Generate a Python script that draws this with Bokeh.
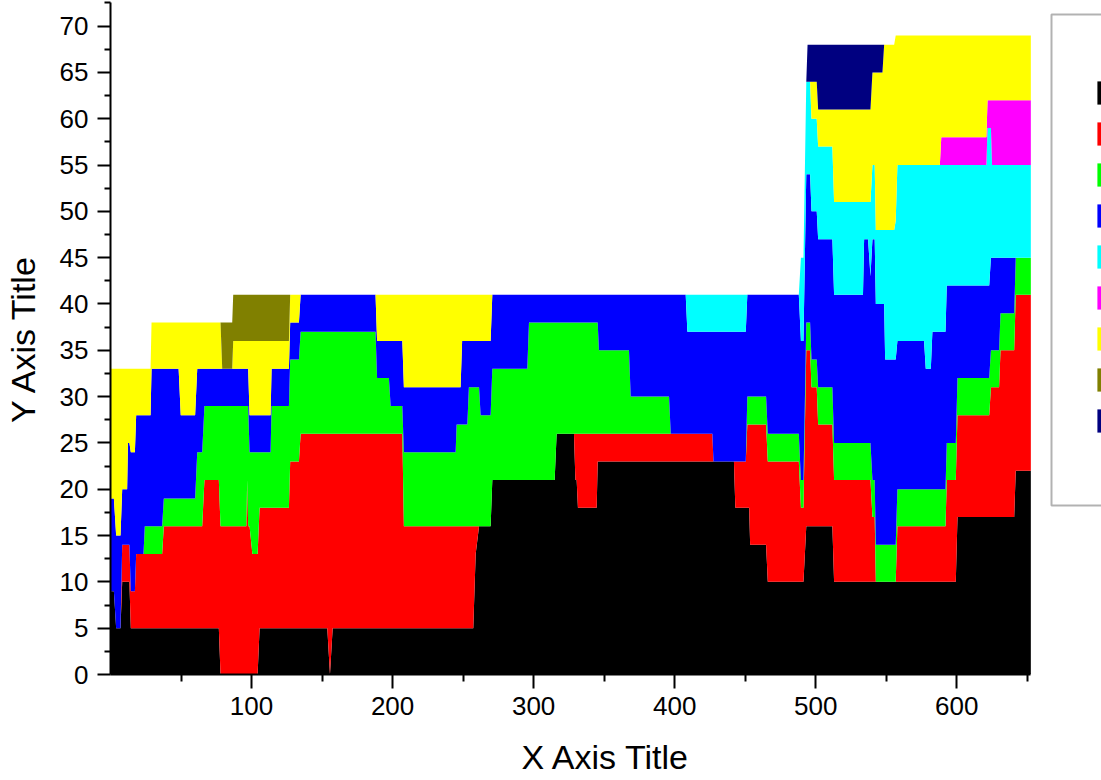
import numpy as np
from bokeh.plotting import figure
from bokeh.models import (ColumnDataSource, Range1d, FixedTicker, Legend,
                          LegendItem, BoxAnnotation)
from bokeh.embed import file_html
from bokeh.resources import INLINE

# ---- data: x positions and the stacked (cumulative) top level of each series ----
x = [0, 2.4, 4.0, 7.1, 8.3, 11.8, 12.4, 13.4, 14.4, 17.3,
     18.2, 23.4, 24.3, 28.4, 29.1, 36.6, 37.8, 48.3, 49.8, 60.0,
     61.5, 65.0, 66.6, 76.8, 78.0, 79.2, 86.3, 87.0, 96.3, 96.9,
     97.6, 98.6, 100.6, 104.3, 105.7, 113.5, 114.2, 126.5, 127.4, 133.6,
     134.8, 153.7, 155.6, 157.5, 187.9, 189.0, 197.4, 198.6, 206.9, 208.0,
     244.7, 245.4, 248.2, 249.3, 253.0, 254.1, 257.2, 258.9, 261.3, 262.4,
     269.5, 270.7, 295.5, 296.7, 314.9, 316.3, 328.6, 329.6, 330.5, 331.4,
     344.7, 345.4, 346.3, 367.6, 368.8, 396.0, 397.2, 407.8, 409.0, 426.7,
     427.5, 442.0, 443.0, 450.4, 451.5, 452.8, 453.5, 464.8, 466.0, 488.0,
     489.5, 491.3, 493.3, 494.2, 496.0, 497.0, 500.7, 501.7, 511.8, 513.0,
     533.5, 534.3, 537.1, 538.8, 540.2, 541.8, 542.6, 547.3, 548.5, 549.2,
     555.6, 556.7, 557.9, 576.8, 578.0, 581.6, 582.7, 588.0, 589.0, 592.0,
     592.9, 599.3, 600.5, 621.0, 621.8, 623.0, 624.2, 625.0, 630.0, 631.0,
     640.7, 641.8, 652.5]

level_black = [9, 9, 5, 5, 10, 10, 10, 10, 5, 5,
               5, 5, 5, 5, 5, 5, 5, 5, 5, 5,
               5, 5, 5, 5, 0, 0, 0, 0, 0, 0,
               0, 0, 0, 0, 5, 5, 5, 5, 5, 5,
               5, 5, 0, 5, 5, 5, 5, 5, 5, 5,
               5, 5, 5, 5, 5, 5, 5, 13, 16, 16,
               16, 21, 21, 21, 21, 26, 26, 21, 21, 18,
               18, 23, 23, 23, 23, 23, 23, 23, 23, 23,
               23, 23, 18, 18, 18, 18, 14, 14, 10, 10,
               10, 10, 16, 16, 16, 16, 16, 16, 16, 10,
               10, 10, 10, 10, 10, 10, 10, 10, 10, 10,
               10, 10, 10, 10, 10, 10, 10, 10, 10, 10,
               10, 10, 17, 17, 17, 17, 17, 17, 17, 17,
               17, 22, 22]

level_red = [9, 9, 5, 5, 14, 14, 14, 14, 9, 9,
             13, 13, 13, 13, 13, 13, 16, 16, 16, 16,
             16, 16, 21, 21, 16, 16, 16, 16, 16, 21,
             16, 16, 13, 13, 18, 18, 18, 18, 23, 23,
             26, 26, 26, 26, 26, 26, 26, 26, 26, 16,
             16, 16, 16, 16, 16, 16, 16, 16, 16, 16,
             16, 21, 21, 21, 21, 26, 26, 26, 26, 26,
             26, 26, 26, 26, 26, 26, 26, 26, 26, 26,
             23, 23, 23, 23, 27, 27, 27, 27, 23, 23,
             18, 18, 35, 35, 35, 31, 31, 27, 27, 21,
             21, 21, 21, 21, 17, 17, 10, 10, 10, 10,
             10, 10, 16, 16, 16, 16, 16, 16, 16, 16,
             21, 21, 28, 28, 28, 28, 31, 31, 31, 35,
             35, 41, 41]

level_green = [9, 9, 5, 5, 14, 14, 14, 14, 9, 9,
               13, 13, 16, 16, 16, 16, 19, 19, 19, 19,
               24, 24, 29, 29, 29, 29, 29, 29, 29, 29,
               29, 24, 24, 24, 24, 24, 29, 29, 34, 34,
               37, 37, 37, 37, 37, 32, 32, 29, 29, 24,
               24, 27, 27, 27, 27, 31, 31, 31, 31, 28,
               28, 33, 33, 38, 38, 38, 38, 38, 38, 38,
               38, 38, 35, 35, 30, 30, 26, 26, 26, 26,
               23, 23, 23, 23, 30, 30, 30, 30, 26, 26,
               21, 21, 38, 38, 38, 34, 34, 31, 31, 25,
               25, 25, 25, 25, 21, 21, 14, 14, 14, 14,
               14, 14, 20, 20, 20, 20, 20, 20, 20, 20,
               25, 25, 32, 32, 32, 32, 35, 35, 35, 39,
               39, 45, 45]

level_blue = [19, 19, 15, 15, 20, 20, 25, 25, 24, 24,
              28, 28, 28, 28, 33, 33, 33, 33, 28, 28,
              33, 33, 33, 33, 33, 33, 33, 33, 33, 33,
              33, 28, 28, 28, 28, 28, 33, 33, 38, 38,
              41, 41, 41, 41, 41, 36, 36, 36, 36, 31,
              31, 31, 31, 36, 36, 36, 36, 36, 36, 36,
              36, 41, 41, 41, 41, 41, 41, 41, 41, 41,
              41, 41, 41, 41, 41, 41, 41, 41, 37, 37,
              37, 37, 37, 37, 41, 41, 41, 41, 41, 41,
              36, 36, 54, 54, 54, 50, 50, 47, 47, 41,
              41, 47, 47, 43, 47, 47, 40, 40, 40, 34,
              34, 34, 36, 36, 33, 33, 37, 37, 37, 37,
              42, 42, 42, 42, 42, 42, 45, 45, 45, 45,
              45, 45, 45]

level_cyan = [19, 19, 15, 15, 20, 20, 25, 25, 24, 24,
              28, 28, 28, 28, 33, 33, 33, 33, 28, 28,
              33, 33, 33, 33, 33, 33, 33, 33, 33, 33,
              33, 28, 28, 28, 28, 28, 33, 33, 38, 38,
              41, 41, 41, 41, 41, 36, 36, 36, 36, 31,
              31, 31, 31, 36, 36, 36, 36, 36, 36, 36,
              36, 41, 41, 41, 41, 41, 41, 41, 41, 41,
              41, 41, 41, 41, 41, 41, 41, 41, 41, 41,
              41, 41, 41, 41, 41, 41, 41, 41, 41, 41,
              45, 45, 64, 64, 64, 60, 60, 57, 57, 51,
              51, 51, 51, 51, 55, 55, 48, 48, 48, 48,
              48, 49, 55, 55, 55, 55, 55, 55, 55, 55,
              55, 55, 55, 55, 59, 59, 59, 55, 55, 55,
              55, 55, 55]

level_magenta = [19, 19, 15, 15, 20, 20, 25, 25, 24, 24,
                 28, 28, 28, 28, 33, 33, 33, 33, 28, 28,
                 33, 33, 33, 33, 33, 33, 33, 33, 33, 33,
                 33, 28, 28, 28, 28, 28, 33, 33, 38, 38,
                 41, 41, 41, 41, 41, 36, 36, 36, 36, 31,
                 31, 31, 31, 36, 36, 36, 36, 36, 36, 36,
                 36, 41, 41, 41, 41, 41, 41, 41, 41, 41,
                 41, 41, 41, 41, 41, 41, 41, 41, 41, 41,
                 41, 41, 41, 41, 41, 41, 41, 41, 41, 41,
                 45, 45, 64, 64, 64, 60, 60, 57, 57, 51,
                 51, 51, 51, 51, 55, 55, 48, 48, 48, 48,
                 48, 49, 55, 55, 55, 55, 55, 55, 58, 58,
                 58, 58, 58, 58, 62, 62, 62, 62, 62, 62,
                 62, 62, 62]

level_yellow = [33, 33, 33, 33, 33, 33, 33, 33, 33, 33,
                33, 33, 33, 33, 38, 38, 38, 38, 38, 38,
                38, 38, 38, 38, 38, 33, 33, 36, 36, 36,
                36, 36, 36, 36, 36, 36, 36, 36, 41, 41,
                41, 41, 41, 41, 41, 41, 41, 41, 41, 41,
                41, 41, 41, 41, 41, 41, 41, 41, 41, 41,
                41, 41, 41, 41, 41, 41, 41, 41, 41, 41,
                41, 41, 41, 41, 41, 41, 41, 41, 41, 41,
                41, 41, 41, 41, 41, 41, 41, 41, 41, 41,
                45, 45, 64, 64, 64, 64, 64, 61, 61, 61,
                61, 61, 61, 61, 65, 65, 65, 65, 68, 68,
                68, 69, 69, 69, 69, 69, 69, 69, 69, 69,
                69, 69, 69, 69, 69, 69, 69, 69, 69, 69,
                69, 69, 69]

level_olive = [33, 33, 33, 33, 33, 33, 33, 33, 33, 33,
               33, 33, 33, 33, 38, 38, 38, 38, 38, 38,
               38, 38, 38, 38, 38, 38, 38, 41, 41, 41,
               41, 41, 41, 41, 41, 41, 41, 41, 41, 41,
               41, 41, 41, 41, 41, 41, 41, 41, 41, 41,
               41, 41, 41, 41, 41, 41, 41, 41, 41, 41,
               41, 41, 41, 41, 41, 41, 41, 41, 41, 41,
               41, 41, 41, 41, 41, 41, 41, 41, 41, 41,
               41, 41, 41, 41, 41, 41, 41, 41, 41, 41,
               45, 45, 64, 64, 64, 64, 64, 61, 61, 61,
               61, 61, 61, 61, 65, 65, 65, 65, 68, 68,
               68, 69, 69, 69, 69, 69, 69, 69, 69, 69,
               69, 69, 69, 69, 69, 69, 69, 69, 69, 69,
               69, 69, 69]

level_navy = [33, 33, 33, 33, 33, 33, 33, 33, 33, 33,
              33, 33, 33, 33, 38, 38, 38, 38, 38, 38,
              38, 38, 38, 38, 38, 38, 38, 41, 41, 41,
              41, 41, 41, 41, 41, 41, 41, 41, 41, 41,
              41, 41, 41, 41, 41, 41, 41, 41, 41, 41,
              41, 41, 41, 41, 41, 41, 41, 41, 41, 41,
              41, 41, 41, 41, 41, 41, 41, 41, 41, 41,
              41, 41, 41, 41, 41, 41, 41, 41, 41, 41,
              41, 41, 41, 41, 41, 41, 41, 41, 41, 41,
              45, 45, 64, 68, 68, 68, 68, 68, 68, 68,
              68, 68, 68, 68, 68, 68, 68, 68, 68, 68,
              68, 69, 69, 69, 69, 69, 69, 69, 69, 69,
              69, 69, 69, 69, 69, 69, 69, 69, 69, 69,
              69, 69, 69]

series_names = ["B", "C", "D", "E", "F", "G", "H", "I", "J"]
series_colors = ["#000000", "#FF0000", "#00FF00", "#0000FF", "#00FFFF",
                 "#FF00FF", "#FFFF00", "#808000", "#000080"]
x_major = [100, 200, 300, 400, 500, 600]
x_minor = [50, 150, 250, 350, 450, 550, 650]
y_major = [0, 5, 10, 15, 20, 25, 30, 35, 40, 45, 50, 55, 60, 65, 70]
y_minor = [2.5, 7.5, 12.5, 17.5, 22.5, 27.5, 32.5, 37.5, 42.5, 47.5,
           52.5, 57.5, 62.5, 67.5, 72.5]

# ---- per-series values (layer thickness) from the cumulative levels ----
levels = [level_black, level_red, level_green, level_blue, level_cyan,
          level_magenta, level_yellow, level_olive, level_navy]
data = {"x": np.array(x, dtype=float)}
prev = np.zeros(len(x))
for name, lev in zip(series_names, levels):
    arr = np.array(lev, dtype=float)
    data[name] = arr - prev
    prev = arr
src = ColumnDataSource(data)

FONT = "Liberation Sans"
X_END = 652.5

# the frame runs to the right edge of the canvas so that the legend box,
# which sits right of the data, is drawn; the x axis itself stops at X_END
p = figure(width=1101, height=780, output_backend="svg", toolbar_location=None,
           x_range=Range1d(0, 702.6), y_range=Range1d(0, 72.55),
           min_border_left=109, min_border_right=0, min_border_top=2,
           min_border_bottom=106)
p.xgrid.visible = False
p.ygrid.visible = False
p.outline_line_color = None
p.background_fill_color = "white"
p.border_fill_color = "white"

renderers = p.varea_stack(stackers=series_names, x="x", color=series_colors,
                          source=src)

p.xaxis.ticker = FixedTicker(ticks=x_major, minor_ticks=x_minor)
p.yaxis.ticker = FixedTicker(ticks=y_major, minor_ticks=y_minor)
p.xaxis.bounds = (0, X_END)
p.xaxis.axis_label = "X Axis Title"
p.yaxis.axis_label = "Y Axis Title"

for ax in (p.xaxis[0], p.yaxis[0]):
    ax.axis_line_width = 2
    ax.axis_line_color = "black"
    ax.major_tick_line_width = 2
    ax.minor_tick_line_width = 2
    ax.major_tick_line_color = "black"
    ax.minor_tick_line_color = "black"
    ax.major_tick_in = 0
    ax.minor_tick_in = 0
    ax.major_label_text_font = FONT
    ax.major_label_text_font_size = "26px"
    ax.major_label_text_color = "black"
    ax.axis_label_text_font = FONT
    ax.axis_label_text_font_size = "34px"
    ax.axis_label_text_font_style = "normal"
    ax.axis_label_text_color = "black"

p.xaxis.major_tick_out = 14
p.xaxis.minor_tick_out = 7
p.xaxis.major_label_standoff = 8
p.xaxis.axis_label_standoff = 20
p.yaxis.major_tick_out = 13
p.yaxis.minor_tick_out = 6
p.yaxis.major_label_standoff = 9
p.yaxis.axis_label_standoff = 15

legend = Legend(items=[LegendItem(label=n, renderers=[r])
                       for n, r in zip(series_names, renderers)],
                location=(984, 239.5), padding=10, spacing=12,
                glyph_width=29, glyph_height=29, label_height=29,
                label_standoff=10, label_text_font=FONT,
                label_text_font_size="24px", margin=0,
                border_line_color=None, background_fill_alpha=0)
p.add_layout(legend)

legend_frame = BoxAnnotation(left=1051, right=1300, top=14, bottom=505,
                             left_units="canvas", right_units="canvas",
                             top_units="canvas", bottom_units="canvas",
                             fill_color=None, fill_alpha=0,
                             line_color="black", line_width=2, level="overlay")
p.add_layout(legend_frame)

open("out.html", "w").write(file_html(p, INLINE))
